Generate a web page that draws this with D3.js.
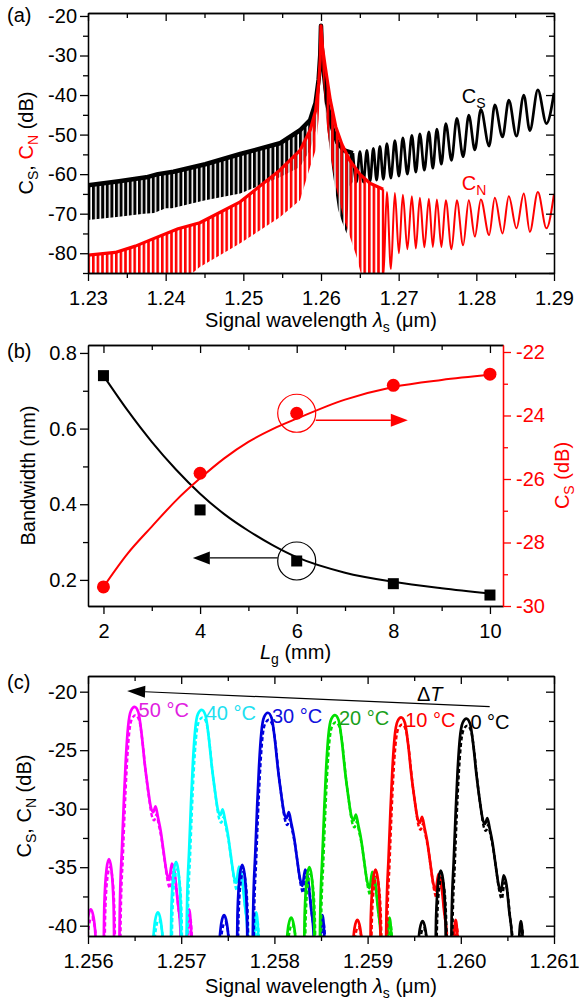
<!DOCTYPE html>
<html>
<head>
<meta charset="utf-8">
<title>Cs / Cn spectra</title>
<style>
  body { margin: 0; background: #fff; }
  svg { display: block; font-family: "Liberation Sans", Arial, sans-serif; }
  .axis path, .axis line { stroke: #000; stroke-width: 1.3; fill: none; }
  .axis text { font-size: 20px; fill: #000; font-family: "Liberation Sans", Arial, sans-serif; }
  .axis.red path, .axis.red line { stroke: #f00; }
  .axis.red text { fill: #f00; }
  .t20 { font-size: 20px; }
</style>
</head>
<body>
<svg width="579" height="1001"></svg>
<script src="https://cdnjs.cloudflare.com/ajax/libs/d3/7.8.5/d3.min.js"></script>
<script>
/* ===== (a) spectra, [wavelength um, dB] ===== */
// dense fringes: read as upper / lower envelope
var csUpper = [[1.23,-62.8],[1.234,-61.8],[1.2375,-60.8],[1.239,-60],[1.241,-59.4],[1.2451,-57.5],[1.2496,-54.9],
  [1.2547,-52.2],[1.2573,-48.9],[1.2586,-46.3],[1.2593,-42],[1.2597,-36],[1.2599,-30],[1.26,-22.5],
  [1.2601,-28],[1.2604,-35],[1.2608,-42],[1.2614,-48],[1.2621,-52],[1.263,-54],[1.26411,-54.7]];
var csLower = [[1.23,-71.6],[1.234,-70.8],[1.2372,-70],[1.2385,-69.8],[1.24,-68.6],[1.2408,-68.6],[1.2451,-66.6],
  [1.2496,-64.9],[1.2547,-60.8],[1.2573,-58.2],[1.2586,-53.9],[1.2593,-49],[1.2597,-42],[1.2599,-34],[1.26,-23],
  [1.2602,-34],[1.2606,-45],[1.2611,-53],[1.2614,-58],[1.2622,-69],[1.2627,-72],[1.2633,-75],[1.26365,-63],[1.26411,-62]];
var cnUpper = [[1.23,-80.5],[1.2335,-79.8],[1.2361,-78.2],[1.2382,-76.5],[1.2416,-73.8],[1.2444,-72.3],[1.2496,-67],
  [1.2547,-59],[1.2573,-54],[1.2586,-48.9],[1.2593,-44],[1.2597,-37],[1.2599,-31],[1.26,-22.5],
  [1.2602,-28],[1.26056,-33],[1.2612,-41.3],[1.2619,-48],[1.2627,-52.5],[1.2637,-56.5],[1.265,-60],[1.2663,-62.3],[1.268,-63.8]];
var cnLower = [[1.23,-88],[1.2416,-88],[1.2444,-83.5],[1.2496,-77.5],[1.2547,-70.9],[1.2573,-66.6],[1.2586,-58.2],
  [1.2593,-54],[1.2597,-46],[1.2599,-36],[1.26,-23],
  [1.2602,-34],[1.2606,-45],[1.2612,-55],[1.2619,-63],[1.2629,-71],[1.2646,-81],[1.2655,-88],[1.268,-88]];
// resolved fringes: alternating maxima / minima
var csFringe = [[1.26411,-54.7],[1.26456,-62],[1.26501,-54.3],[1.26546,-62],[1.26591,-54],[1.26632,-61.8],
  [1.26674,-53.5],[1.26716,-61.5],[1.26758,-53],[1.26803,-61.3],[1.26848,-52.3],[1.269,-61],[1.26951,-51.5],
  [1.27003,-60.5],[1.27054,-50.8],[1.27112,-60],[1.2717,-50.2],[1.27221,-59.5],[1.27273,-49.8],[1.27331,-59],
  [1.27389,-49.3],[1.2744,-58.5],[1.27492,-48.6],[1.2755,-57.5],[1.27607,-47.2],[1.2768,-56.5],[1.27749,-45.9],
  [1.2783,-55.6],[1.27903,-45.1],[1.27981,-53.9],[1.28058,-43.6],[1.28165,-52.9],[1.28238,-42.5],[1.28337,-50.6],
  [1.28418,-41.3],[1.28517,-50.4],[1.28611,-40],[1.28689,-49],[1.28792,-38.7],[1.28903,-47.2],[1.29,-39.5]];
var cnFringe = [[1.268,-63.8],[1.26803,-86],[1.26848,-64.5],[1.269,-84],[1.26951,-64.8],[1.27003,-80],[1.27054,-65.2],
  [1.27112,-79],[1.2717,-65.6],[1.27221,-78.8],[1.27273,-66],[1.27331,-78.5],[1.27389,-66.2],[1.2744,-78.4],
  [1.27492,-66.4],[1.2755,-78.4],[1.27607,-66.6],[1.2768,-79],[1.27749,-66.6],[1.2783,-78],[1.27903,-66.6],
  [1.27981,-75.8],[1.28058,-66.4],[1.28165,-75.4],[1.28238,-66],[1.28337,-75],[1.28418,-65.6],[1.28517,-73.7],
  [1.28611,-64.9],[1.28689,-74.6],[1.28792,-64.5],[1.28903,-73.7],[1.29,-65]];

/* ===== (b) ===== */
var lg = [2, 4, 6, 8, 10];
var bandwidth = [0.74, 0.385, 0.25, 0.19, 0.16];
var csPeak = [-29.4, -25.82, -23.93, -23.05, -22.7];
var fitX = [2, 2.5, 3, 3.5, 4, 4.5, 5, 5.5, 6, 7, 8, 9, 10];
var bwFit = [0.74, 0.648, 0.565, 0.492, 0.428, 0.374, 0.33, 0.292, 0.26, 0.219, 0.195, 0.178, 0.164];
var csFit = [-29.4, -28.35, -27.5, -26.68, -25.98, -25.35, -24.83, -24.43, -24.1, -23.5, -23.1, -22.88, -22.72];

/* ===== (c) ===== */
var tempLabels = ['50 °C', '40 °C', '30 °C', '20 °C', '10 °C', '0 °C'];
var tempColors = ['#ff00ff', '#00ffff', '#0000dd', '#00e000', '#ff0000', '#000000'];
var labelColors = ['#e020e0', '#20e0f0', '#1010dd', '#1a9f1a', '#ff0000', '#000000'];
var csPeakWl = [1.2565, 1.25722, 1.25793, 1.25865, 1.25936, 1.26006];
var csPeakDb = [-21.3, -21.55, -21.8, -22.0, -22.2, -22.3];
var cnPeakWl = [1.25651, 1.25723, 1.25794, 1.25866, 1.25937, 1.26007];
var cnPeakDb = [-22.0, -22.2, -22.4, -22.6, -22.8, -22.9];
// response shape about a peak: offset (nm), level under peak (dB)
var shapeOff = [-0.6,-0.53,-0.5,-0.47,-0.44,-0.41,-0.38,-0.345,-0.325,-0.3,-0.275,-0.25,-0.225,-0.205,-0.178,
  -0.158,-0.135,-0.115,-0.095,-0.07,-0.04,0,0.04,0.075,0.108,0.142,0.175,0.2,0.225,0.25,0.28,0.31,0.345,0.37,0.4,
  0.43,0.46,0.49,0.515,0.545,0.565,0.585,0.605,0.625];
var shapeDb = [-30,-20.5,-18,-17.3,-18,-21,-30,-30,-17,-13.8,-13,-13.8,-17,-30,-30,
  -17,-12,-8,-4.6,-1.7,-0.35,0,-0.45,-2.3,-4.8,-6.9,-8.6,-9,-8.5,-9.4,-10.6,-12.3,-14.2,-14.8,-13.4,
  -14.2,-16.5,-18.8,-30,-30,-19,-17.3,-19,-30];

/* ===== layout ===== */
var A = {l: 88, r: 554, t: 13, b: 273};
var B = {l: 88, r: 503, t: 345, b: 606};
var C = {l: 88, r: 554, t: 676, b: 936};

var svg = d3.select('svg');
var defs = svg.append('defs');

function clip(id, box) {
  defs.append('clipPath').attr('id', id).append('rect')
    .attr('x', box.l).attr('y', box.t).attr('width', box.r - box.l).attr('height', box.b - box.t);
}
clip('clipA', A); clip('clipC', C);

function stripes(id, color, w) {
  defs.append('pattern').attr('id', id).attr('patternUnits', 'userSpaceOnUse')
    .attr('width', 4.6).attr('height', 10)
    .append('rect').attr('width', w).attr('height', 10).attr('fill', color);
}
stripes('stK', '#000', 3.0); stripes('stR', '#f00', 2.6);

function frame(box, x, y, o) {
  var g = svg.append('g');
  function add(axis, tr, cls) {
    g.append('g').attr('class', 'axis ' + (cls || '')).attr('transform', tr).call(axis);
  }
  add(d3.axisBottom(x).tickValues(o.xMajor).tickSize(8).tickSizeOuter(0).tickPadding(10).tickFormat(o.xFmt), 'translate(0,' + box.b + ')');
  add(d3.axisBottom(x).tickValues(o.xMinor).tickSize(5).tickSizeOuter(0).tickFormat(''), 'translate(0,' + box.b + ')');
  add(d3.axisTop(x).tickValues(o.xMajor).tickSize(-8).tickSizeOuter(0).tickFormat(''), 'translate(0,' + box.t + ')');
  add(d3.axisTop(x).tickValues(o.xMinor).tickSize(-5).tickSizeOuter(0).tickFormat(''), 'translate(0,' + box.t + ')');
  add(d3.axisLeft(y).tickValues(o.yMajor).tickSize(8).tickSizeOuter(0).tickPadding(3).tickFormat(o.yFmt), 'translate(' + box.l + ',0)');
  add(d3.axisLeft(y).tickValues(o.yMinor).tickSize(5).tickSizeOuter(0).tickFormat(''), 'translate(' + box.l + ',0)');
  if (o.right) {
    add(d3.axisRight(o.right).tickValues(o.rMajor).tickSize(8).tickSizeOuter(0).tickPadding(5).tickFormat(String), 'translate(' + box.r + ',0)', 'red');
    add(d3.axisRight(o.right).tickValues(o.rMinor).tickSize(5).tickSizeOuter(0).tickFormat(''), 'translate(' + box.r + ',0)', 'red');
  } else {
    add(d3.axisRight(y).tickValues(o.yMajor).tickSize(-8).tickSizeOuter(0).tickFormat(''), 'translate(' + box.r + ',0)');
    add(d3.axisRight(y).tickValues(o.yMinor).tickSize(-5).tickSizeOuter(0).tickFormat(''), 'translate(' + box.r + ',0)');
  }
}

function text(x, y, parts, opt) {
  opt = opt || {};
  var t = svg.append('text').attr('class', 't20').attr('x', x).attr('y', y)
    .attr('text-anchor', opt.anchor || 'start');
  if (opt.rotate) t.attr('transform', 'rotate(-90,' + x + ',' + y + ')');
  var shift = 0;
  parts.forEach(function (p) {
    var s = t.append('tspan').text(p.t).attr('fill', p.c || '#000');
    var want = p.sub ? 5 : 0;
    if (want !== shift) { s.attr('dy', want - shift); shift = want; }
    if (p.sub) s.style('font-size', '14px');
    if (p.i) s.style('font-style', 'italic');
  });
  return t;
}

function wlTitle(x, y) {
  text(x, y, [{t: 'Signal wavelength '}, {t: 'λ', i: 1}, {t: 's', sub: 1}, {t: ' (μm)'}], {anchor: 'middle'});
}

/* ===== panel (a) ===== */
var xa = d3.scaleLinear().domain([1.23, 1.29]).range([A.l, A.r]);
var ya = d3.scaleLinear().domain([-85, -19.25]).range([A.b, A.t]);
var ga = svg.append('g').attr('clip-path', 'url(#clipA)');
var lineA = d3.line().x(function (d) { return xa(d[0]); }).y(function (d) { return ya(d[1]); });
var fringeA = d3.line().curve(d3.curveMonotoneX).x(function (d) { return xa(d[0]); }).y(function (d) { return ya(d[1]); });

function spectrum(up, lo, fr, color, pat, wUp, wFr) {
  ga.append('path').attr('d', lineA(up.concat(lo.slice().reverse())) + 'Z').attr('fill', 'url(#' + pat + ')');
  ga.append('path').attr('d', lineA(up)).attr('fill', 'none').attr('stroke', color)
    .attr('stroke-width', wUp).attr('stroke-linejoin', 'round');
  ga.append('path').attr('d', fringeA(fr)).attr('fill', 'none').attr('stroke', color).attr('stroke-width', wFr);
}
spectrum(csUpper, csLower, csFringe, '#000', 'stK', 4.5, 2.7);
spectrum(cnUpper, cnLower, cnFringe, '#f00', 'stR', 3.2, 2.0);

frame(A, xa, ya, {
  xMajor: [1.23, 1.24, 1.25, 1.26, 1.27, 1.28, 1.29], xMinor: [1.235, 1.245, 1.255, 1.265, 1.275, 1.285],
  yMajor: [-80, -70, -60, -50, -40, -30, -20], yMinor: [-85, -75, -65, -55, -45, -35, -25],
  xFmt: d3.format('.2f'), yFmt: String
});
text(xa(1.27813), ya(-42), [{t: 'C'}, {t: 'S', sub: 1}]);
text(xa(1.27813), ya(-64.05), [{t: 'C', c: '#f00'}, {t: 'N', sub: 1, c: '#f00'}]);
text(7, 22, [{t: '(a)'}]);
text(33, (A.t + A.b) / 2, [{t: 'C'}, {t: 'S', sub: 1}, {t: ', '}, {t: 'C', c: '#f00'}, {t: 'N', sub: 1, c: '#f00'}, {t: ' (dB)'}], {anchor: 'middle', rotate: 1});
wlTitle((A.l + A.r) / 2, 327);

/* ===== panel (b) ===== */
var xb = d3.scaleLinear().domain([1.68, 10.27]).range([B.l, B.r]);
var yb = d3.scaleLinear().domain([0.131, 0.821]).range([B.b, B.t]);
var yr = d3.scaleLinear().domain([-30, -21.78]).range([B.b, B.t]);
var gb = svg.append('g');

gb.append('path').attr('fill', 'none').attr('stroke', '#000').attr('stroke-width', 2)
  .attr('d', d3.line().curve(d3.curveMonotoneX).x(function (d, i) { return xb(fitX[i]); }).y(function (d) { return yb(d); })(bwFit));
gb.append('path').attr('fill', 'none').attr('stroke', '#f00').attr('stroke-width', 2)
  .attr('d', d3.line().curve(d3.curveMonotoneX).x(function (d, i) { return xb(fitX[i]); }).y(function (d) { return yr(d); })(csFit));
gb.selectAll('rect.bw').data(bandwidth).enter().append('rect').attr('class', 'bw')
  .attr('x', function (d, i) { return xb(lg[i]) - 5.5; }).attr('y', function (d) { return yb(d) - 5.5; })
  .attr('width', 11).attr('height', 11).attr('fill', '#000');
gb.selectAll('circle.cs').data(csPeak).enter().append('circle').attr('class', 'cs')
  .attr('cx', function (d, i) { return xb(lg[i]); }).attr('cy', function (d) { return yr(d); })
  .attr('r', 6.5).attr('fill', '#f00');

// circled points with arrows pointing to their axis
function arrow(cx, cy, tipX, y, color, dir) {
  var r = 19;
  gb.append('circle').attr('cx', cx).attr('cy', cy).attr('r', r).attr('fill', 'none').attr('stroke', color).attr('stroke-width', 1.2);
  var base = tipX - dir * 17;
  gb.append('line').attr('x1', cx + dir * r).attr('x2', base).attr('y1', y).attr('y2', y).attr('stroke', color).attr('stroke-width', 1.3);
  gb.append('path').attr('d', 'M' + tipX + ',' + y + 'L' + base + ',' + (y - 6.5) + 'L' + base + ',' + (y + 6.5) + 'Z').attr('fill', color);
}
arrow(xb(6), yb(0.25), xb(3.85), yb(0.258), '#000', -1);
arrow(xb(6), yr(-23.93), xb(8.3), yr(-24.15), '#f00', 1);

frame(B, xb, yb, {
  xMajor: [2, 4, 6, 8, 10], xMinor: [3, 5, 7, 9],
  yMajor: [0.2, 0.4, 0.6, 0.8], yMinor: [0.3, 0.5, 0.7],
  xFmt: String, yFmt: d3.format('.1f'),
  right: yr, rMajor: [-30, -28, -26, -24, -22], rMinor: [-29, -27, -25, -23]
});
text(7, 358, [{t: '(b)'}]);
text(35, (B.t + B.b) / 2, [{t: 'Bandwidth (nm)'}], {anchor: 'middle', rotate: 1});
text(569, (B.t + B.b) / 2, [{t: 'C', c: '#f00'}, {t: 'S', sub: 1, c: '#f00'}, {t: ' (dB)', c: '#f00'}], {anchor: 'middle', rotate: 1});
text((B.l + B.r) / 2, 659, [{t: 'L', i: 1}, {t: 'g', sub: 1}, {t: ' (mm)'}], {anchor: 'middle'});

/* ===== panel (c) ===== */
var xc = d3.scaleLinear().domain([1.256, 1.261]).range([C.l, C.r]);
var yc = d3.scaleLinear().domain([-40.88, -18.66]).range([C.b, C.t]);
var gc = svg.append('g').attr('clip-path', 'url(#clipC)');
var lineC = d3.line().curve(d3.curveMonotoneX).x(function (d) { return xc(d[0]); }).y(function (d) { return yc(d[1]); });

function peakCurve(wl, db) {
  return shapeOff.map(function (o, k) { return [wl + o * 1e-3, db + shapeDb[k]]; });
}
tempLabels.forEach(function (lab, i) {
  gc.append('path').attr('d', lineC(peakCurve(cnPeakWl[i], cnPeakDb[i]))).attr('fill', 'none')
    .attr('stroke', tempColors[i]).attr('stroke-width', 2.4).attr('stroke-dasharray', '4,2.5');
  gc.append('path').attr('d', lineC(peakCurve(csPeakWl[i], csPeakDb[i]))).attr('fill', 'none')
    .attr('stroke', tempColors[i]).attr('stroke-width', 2.7);
});
tempLabels.forEach(function (lab, i) {
  text(xc(csPeakWl[i]) + 4, yc(csPeakDb[i]) + 10, [{t: lab, c: labelColors[i]}]);
});

// temperature shift arrow
var ax0 = xc(1.26031), ay0 = yc(-21.28), ax1 = xc(1.25642), ay1 = yc(-19.94);
var ang = Math.atan2(ay0 - ay1, ax0 - ax1);
var hx = ax1 + 18 * Math.cos(ang), hy = ay1 + 18 * Math.sin(ang);
svg.append('line').attr('x1', ax0).attr('y1', ay0).attr('x2', hx).attr('y2', hy).attr('stroke', '#000').attr('stroke-width', 1.2);
svg.append('path').attr('fill', '#000')
  .attr('d', 'M' + ax1 + ',' + ay1 + 'L' + (hx - 6 * Math.sin(ang)) + ',' + (hy + 6 * Math.cos(ang)) +
    'L' + (hx + 6 * Math.sin(ang)) + ',' + (hy - 6 * Math.cos(ang)) + 'Z');
text(xc(1.25953), yc(-20.8), [{t: 'Δ'}, {t: 'T', i: 1}]);

frame(C, xc, yc, {
  xMajor: [1.256, 1.257, 1.258, 1.259, 1.26, 1.261], xMinor: [1.2565, 1.2575, 1.2585, 1.2595, 1.2605],
  yMajor: [-40, -35, -30, -25, -20], yMinor: [-37.5, -32.5, -27.5, -22.5],
  xFmt: d3.format('.3f'), yFmt: String
});
text(7, 689, [{t: '(c)'}]);
text(31, (C.t + C.b) / 2, [{t: 'C'}, {t: 'S', sub: 1}, {t: ', C'}, {t: 'N', sub: 1}, {t: ' (dB)'}], {anchor: 'middle', rotate: 1});
wlTitle((C.l + C.r) / 2, 993);
</script>
</body>
</html>
